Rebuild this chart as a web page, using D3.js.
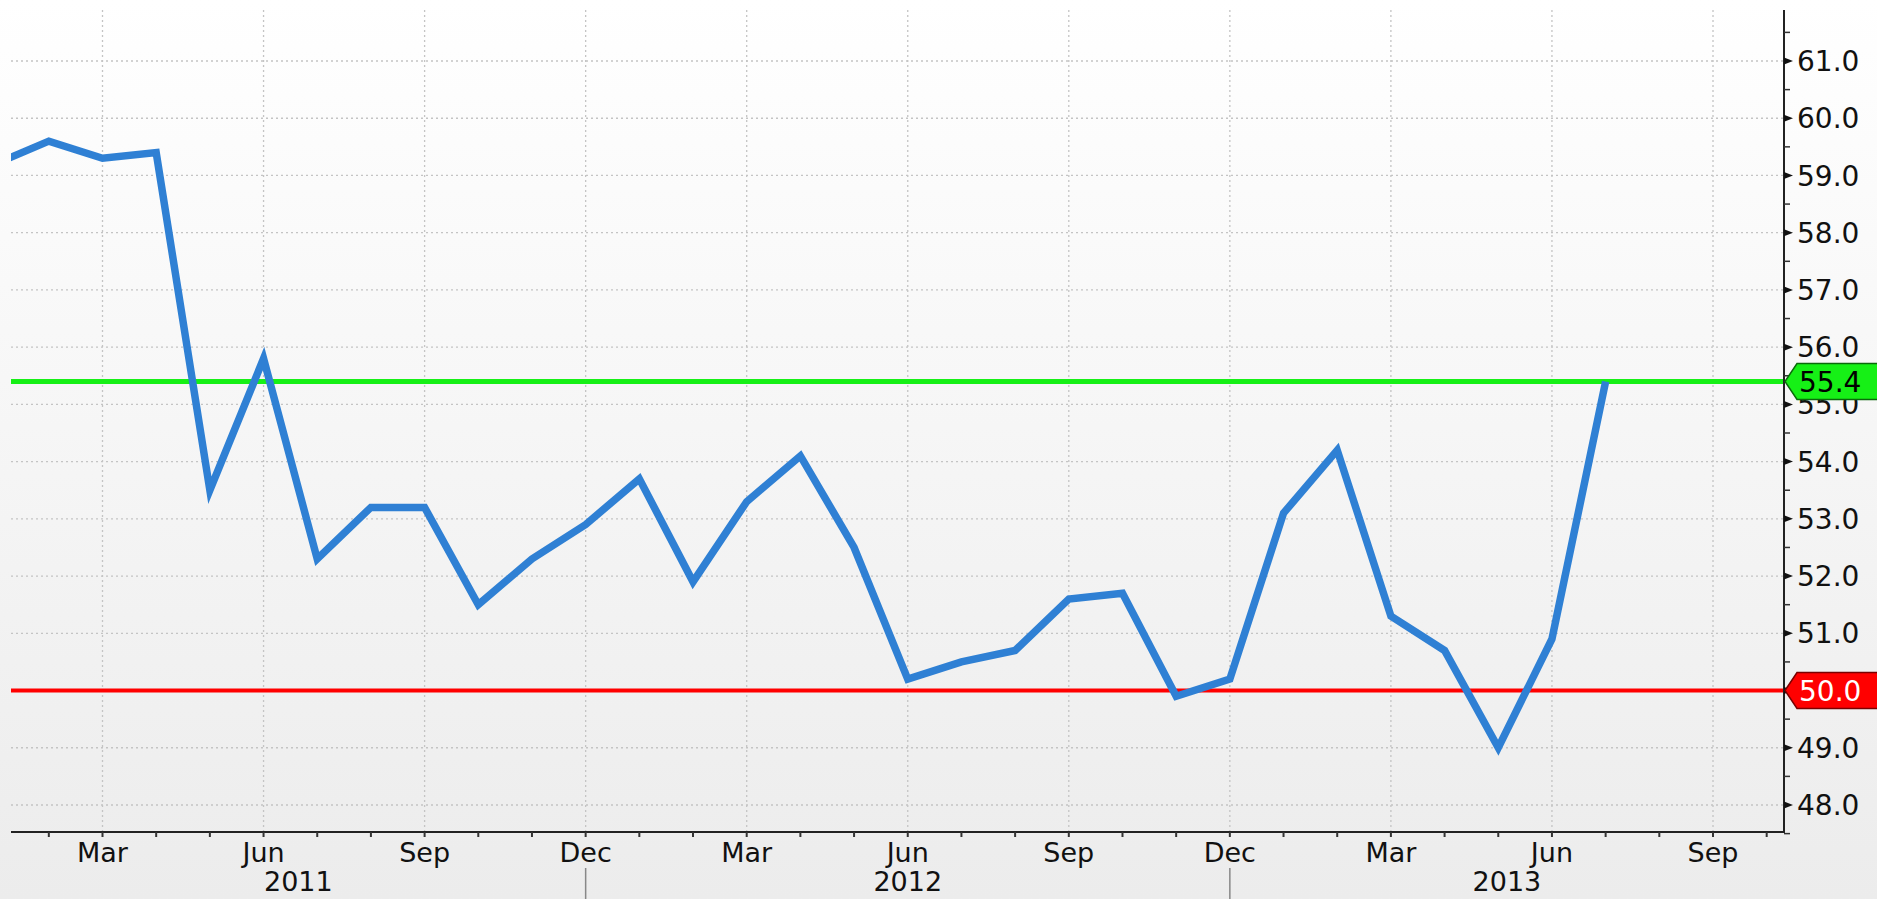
<!DOCTYPE html>
<html>
<head>
<meta charset="utf-8">
<script src="https://cdn.jsdelivr.net/npm/d3@7"></script>
<style>
  html, body { margin: 0; padding: 0; background: #f0f0f0; overflow: hidden; }
  svg { display: block; font-family: "DejaVu Sans", Verdana, sans-serif; }
</style>
</head>
<body>
<div id="vis"></div>
<script>
// monthly readings, Jan 2011 .. Jul 2013
var months = ['2011-01', '2011-02', '2011-03', '2011-04', '2011-05', '2011-06',
              '2011-07', '2011-08', '2011-09', '2011-10', '2011-11', '2011-12',
              '2012-01', '2012-02', '2012-03', '2012-04', '2012-05', '2012-06',
              '2012-07', '2012-08', '2012-09', '2012-10', '2012-11', '2012-12',
              '2013-01', '2013-02', '2013-03', '2013-04', '2013-05', '2013-06',
              '2013-07'];
var values = [59.2, 59.6, 59.3, 59.4, 53.5, 55.8, 52.3, 53.2, 53.2, 51.5, 52.3, 52.9,
              53.7, 51.9, 53.3, 54.1, 52.5, 50.2, 50.5, 50.7, 51.6, 51.7, 49.9, 50.2,
              53.1, 54.2, 51.3, 50.7, 49.0, 50.9, 55.4];

// x axis: month index from Jan 2011
var monthNames = ['Jan', 'Feb', 'Mar', 'Apr', 'May', 'Jun', 'Jul', 'Aug', 'Sep', 'Oct', 'Nov', 'Dec'];
var labelMonths = [2, 5, 8, 11, 14, 17, 20, 23, 26, 29, 32];
var years = ['2011', '2012', '2013'];
var yearBreaks = [11, 23];

// y axis
var yTicks = [48, 49, 50, 51, 52, 53, 54, 55, 56, 57, 58, 59, 60, 61];

// highlighted levels on the right
var refValues = [55.4, 50.0];
var refLabels = ['55.4', '50.0'];
var refColors = ['#16f016', '#ff0000'];
var refBorders = ['#0a6a0a', '#7a0000'];
var refText = ['#000000', '#ffffff'];

var width = 1877;
var height = 899;
var plotLeft = 11, plotRight = 1784, plotTop = 10, plotBottom = 832;

var x = d3.scaleLinear().domain([2, 32]).range([102.5, 1713]);
var y = d3.scaleLinear().domain([48, 61]).range([805, 61]);

var svg = d3.select('#vis').append('svg')
    .attr('width', width)
    .attr('height', height);

var defs = svg.append('defs');
var grad = defs.append('linearGradient')
    .attr('id', 'bg')
    .attr('x1', 0).attr('y1', 0).attr('x2', 0).attr('y2', 1);
grad.append('stop').attr('offset', '0%').attr('stop-color', '#ffffff');
grad.append('stop').attr('offset', '100%').attr('stop-color', '#ececec');

defs.append('clipPath').attr('id', 'plotclip')
  .append('rect')
    .attr('x', plotLeft).attr('y', plotTop)
    .attr('width', plotRight - plotLeft).attr('height', plotBottom - plotTop);

svg.append('rect')
    .attr('width', width).attr('height', height)
    .attr('fill', 'url(#bg)');

// grid
var grid = svg.append('g').attr('clip-path', 'url(#plotclip)');
grid.selectAll('.hgrid')
    .data(yTicks)
  .enter().append('line')
    .attr('x1', plotLeft).attr('x2', plotRight)
    .attr('y1', function (d) { return y(d); })
    .attr('y2', function (d) { return y(d); })
    .attr('stroke', '#c4c4c4')
    .attr('stroke-width', 1.3)
    .attr('stroke-dasharray', '2,3');
grid.selectAll('.vgrid')
    .data(labelMonths)
  .enter().append('line')
    .attr('x1', function (d) { return x(d); })
    .attr('x2', function (d) { return x(d); })
    .attr('y1', plotTop).attr('y2', plotBottom)
    .attr('stroke', '#c4c4c4')
    .attr('stroke-width', 1.3)
    .attr('stroke-dasharray', '2,3');

// reference lines
var plot = svg.append('g').attr('clip-path', 'url(#plotclip)');
plot.selectAll('.ref')
    .data(refValues)
  .enter().append('line')
    .attr('x1', plotLeft).attr('x2', plotRight)
    .attr('y1', function (d) { return y(d); })
    .attr('y2', function (d) { return y(d); })
    .attr('stroke', function (d, i) { return refColors[i]; })
    .attr('stroke-width', function (d, i) { return i === 0 ? 5 : 4; });

// series
var line = d3.line()
    .x(function (d, i) { return x(i); })
    .y(function (d) { return y(d); });

plot.append('path')
    .datum(values)
    .attr('d', line)
    .attr('fill', 'none')
    .attr('stroke', '#2f80d4')
    .attr('stroke-width', 7.5)
    .attr('stroke-linejoin', 'miter');

// axes
svg.append('line')
    .attr('x1', plotLeft).attr('x2', plotRight + 1)
    .attr('y1', plotBottom).attr('y2', plotBottom)
    .attr('stroke', '#222').attr('stroke-width', 2);
svg.append('line')
    .attr('x1', plotRight).attr('x2', plotRight)
    .attr('y1', plotTop).attr('y2', plotBottom)
    .attr('stroke', '#222').attr('stroke-width', 2);

// x ticks every month
svg.selectAll('.xtick')
    .data(d3.range(1, 34))
  .enter().append('line')
    .attr('x1', function (d) { return x(d); })
    .attr('x2', function (d) { return x(d); })
    .attr('y1', plotBottom).attr('y2', plotBottom + 5)
    .attr('stroke', '#333').attr('stroke-width', 2);

svg.selectAll('.xlabel')
    .data(labelMonths)
  .enter().append('text')
    .attr('x', function (d) { return x(d); })
    .attr('y', 862)
    .attr('text-anchor', 'middle')
    .attr('font-size', 27)
    .attr('fill', '#111')
    .text(function (d) { return monthNames[d % 12]; });

// year separators and labels
svg.selectAll('.ysep')
    .data(yearBreaks)
  .enter().append('line')
    .attr('x1', function (d) { return x(d); })
    .attr('x2', function (d) { return x(d); })
    .attr('y1', 868).attr('y2', height)
    .attr('stroke', '#888').attr('stroke-width', 1.5);

var bounds = [plotLeft].concat(yearBreaks.map(function (d) { return x(d); })).concat([plotRight]);
svg.selectAll('.year')
    .data(years)
  .enter().append('text')
    .attr('x', function (d, i) { return (bounds[i] + bounds[i + 1]) / 2; })
    .attr('y', 891)
    .attr('text-anchor', 'middle')
    .attr('font-size', 27)
    .attr('fill', '#111')
    .text(function (d) { return d; });

// y ticks: minor half steps, arrow markers at whole numbers
svg.selectAll('.yminor')
    .data(yTicks.map(function (d) { return d + 0.5; }).concat([47.5]))
  .enter().append('line')
    .attr('x1', plotRight).attr('x2', plotRight + 6)
    .attr('y1', function (d) { return y(d); })
    .attr('y2', function (d) { return y(d); })
    .attr('stroke', '#333').attr('stroke-width', 1.5);

svg.selectAll('.ymajor')
    .data(yTicks)
  .enter().append('path')
    .attr('d', function (d) {
        var yy = y(d);
        return 'M' + plotRight + ',' + (yy - 3.5) + 'L' + (plotRight + 9) + ',' + yy +
               'L' + plotRight + ',' + (yy + 3.5) + 'Z';
    })
    .attr('fill', '#111');

svg.selectAll('.ylabel')
    .data(yTicks)
  .enter().append('text')
    .attr('x', 1797)
    .attr('y', function (d) { return y(d); })
    .attr('dy', '0.36em')
    .attr('font-size', 28)
    .attr('fill', '#111')
    .text(function (d) { return d.toFixed(1); });

// value flags on the axis
var flags = svg.selectAll('.flag')
    .data(refValues)
  .enter().append('g')
    .attr('transform', function (d) { return 'translate(' + (plotRight + 1) + ',' + y(d) + ')'; });

flags.append('path')
    .attr('d', 'M0,0 L12,-18 L100,-18 L100,18 L12,18 Z')
    .attr('fill', function (d, i) { return refColors[i]; })
    .attr('stroke', function (d, i) { return refBorders[i]; })
    .attr('stroke-width', 1.5);

flags.append('text')
    .attr('x', 14)
    .attr('dy', '0.36em')
    .attr('font-size', 28)
    .attr('fill', function (d, i) { return refText[i]; })
    .text(function (d, i) { return refLabels[i]; });
</script>
</body>
</html>
